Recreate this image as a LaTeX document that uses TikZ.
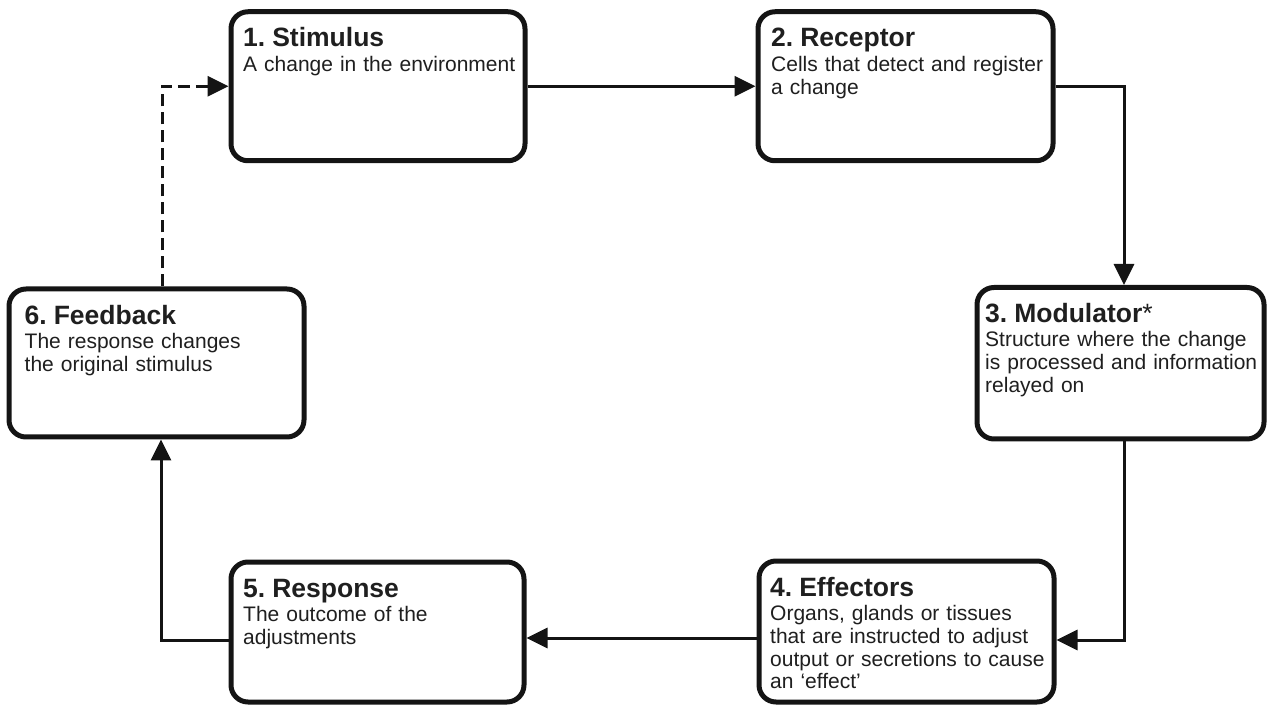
\documentclass[tikz,border=0pt]{standalone}
\usepackage{fontspec}
\setmainfont{Liberation Sans}
\usetikzlibrary{arrows.meta}

% heading line of a stage box, followed by its description
\newcommand\stagetitle[1]{\rule{0pt}{20pt}{\fontsize{26.5}{22.5}\selectfont\bfseries #1}\\[1.5pt]}

\begin{document}
\frenchspacing
\begin{tikzpicture}[x=1pt,y=1pt,
  stagebox/.style={draw=black!92, line width=5pt, rounded corners=17pt, fill=white,
                   inner sep=0pt, outer sep=2.5pt},
  stagetext/.style={anchor=north west, inner sep=0pt, text width=300pt, align=left,
                    yshift=-17.5pt, font=\fontsize{21}{22.8}\selectfont, text=black!88},
  flow/.style={line width=3pt, draw=black!92, -{Triangle[length=21pt,width=20pt]}},
  backflow/.style={flow, dash pattern=on 12pt off 6pt}]

\useasboundingbox (0,0) rectangle (1268,715);

% the six stages of the control loop
\node[stagebox, minimum width=294pt, minimum height=149pt] (s) at (378,628.75) {};
\node[stagebox, minimum width=295pt, minimum height=149pt] (r) at (905.5,628.75) {};
\node[stagebox, minimum width=287pt, minimum height=151.5pt] (m) at (1120.5,351.75) {};
\node[stagebox, minimum width=295pt, minimum height=141pt] (e) at (906.5,83.5) {};
\node[stagebox, minimum width=293pt, minimum height=140pt] (p) at (377.5,83) {};
\node[stagebox, minimum width=295pt, minimum height=148pt] (f) at (156.5,352) {};

% stage descriptions
\node[stagetext, xshift=14.5pt] (st) at (s.north west)
  {\stagetitle{1. Stimulus}A change in the environment};
\node[stagetext, xshift=15.5pt] (rt) at (r.north west)
  {\stagetitle{2. Receptor}Cells that detect and register\\a change};
\node[stagetext, xshift=10.5pt] (mt) at (m.north west)
  {\stagetitle{3. Modulator{\mdseries*}}Structure where the change\\is processed and information\\relayed on};
\node[stagetext, xshift=13.5pt] (et) at (e.north west)
  {\stagetitle{4. Effectors}Organs, glands or tissues\\that are instructed to adjust\\output or secretions to cause\\an ‘effect’};
\node[stagetext, xshift=14.5pt] (pt) at (p.north west)
  {\stagetitle{5. Response}The outcome of the\\adjustments};
\node[stagetext, xshift=18pt] (ft) at (f.north west)
  {\stagetitle{6. Feedback}The response changes\\the original stimulus};

% connectors around the loop
\draw[flow] (s.east) -- (r.east -| r.west);
\draw[flow] (r.east) -| ([xshift=3.5pt]m.north);
\draw[flow] ([xshift=3.5pt]m.south) |- ([yshift=-8.5pt]e.east);
\draw[flow] ([yshift=-6.5pt]e.west) -- ([yshift=-6.5pt]e.west -| p.east);
\draw[flow] ([yshift=-8pt]p.west) -| ([xshift=4.5pt]f.south);
\draw[backflow] ([xshift=5.5pt]f.north) |- (s.west);
\end{tikzpicture}
\end{document}
